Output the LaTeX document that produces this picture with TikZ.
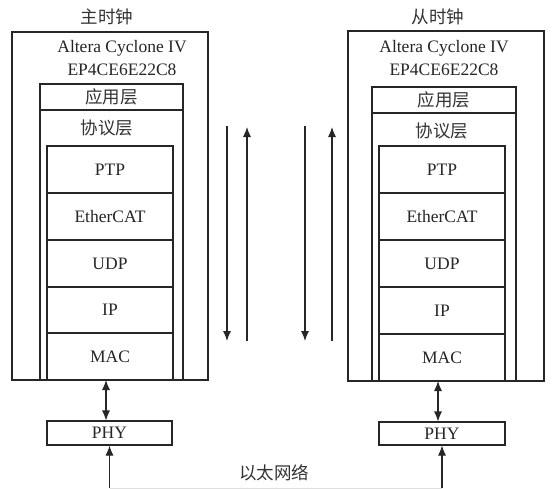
\documentclass[tikz,border=0pt]{standalone}
\usepackage{fontspec}
\setmainfont{Liberation Serif}
\newfontfamily\cjk{Noto Sans CJK SC}
\usetikzlibrary{arrows.meta,fit}
\tikzset{
  box/.style={draw=black!85, line width=1.1pt, inner sep=0pt},
  lat/.style={font=\fontsize{17.5}{20}\selectfont, text=black!85, inner sep=0pt},
  han/.style={font=\cjk\fontsize{17.5}{20}\selectfont, text=black!80, inner sep=0pt},
  flow/.style={draw=black!85, line width=1.1pt,
    -{Latex[length=10pt,width=8pt]}},
  both/.style={draw=black!85, line width=1.1pt,
    {Latex[length=10pt,width=8pt]}-{Latex[length=10pt,width=8pt]}},
}
\begin{document}
\begin{tikzpicture}[x=1pt, y=-1pt]
  \fill[white] (0,0) rectangle (552,488);
  \useasboundingbox (0,0) rectangle (552,488);

  % ---------- master clock ----------
  \node[han] (mtitle) at (107,17) {主时钟};
  \node[box, fit={(12,32) (208,380)}] (mfpga) {};
  \node[lat] (mchip1) at (122,48) {Altera Cyclone IV};
  \node[lat] (mchip2) at (122,70) {EP4CE6E22C8};
  \node[box, fit={(40,84) (183,110)}] (mapp) {};
  \node[han] at (mapp.center) {应用层};
  \node[box, fit={(40,110) (183,380)}] (mproto) {};
  \node[han] (mprotot) at (107,128) {协议层};
  \node[box, fit={(47,146) (173,193)}] (mptp) {};
  \node[lat] at (mptp.center) {PTP};
  \node[box, fit={(47,193) (173,240)}] (mecat) {};
  \node[lat] at (mecat.center) {EtherCAT};
  \node[box, fit={(47,240) (173,287)}] (mudp) {};
  \node[lat] at (mudp.center) {UDP};
  \node[box, fit={(47,287) (173,333)}] (mip) {};
  \node[lat] at (mip.center) {IP};
  \node[box, fit={(47,333) (173,380)}] (mmac) {};
  \node[lat] at (mmac.center) {MAC};
  \node[box, fit={(47,421) (172,445)}] (mphy) {};
  \node[lat] at (mphy.center) {PHY};

  % ---------- slave clock ----------
  \node[han] (stitle) at (438,17) {从时钟};
  \node[box, fit={(348,31) (544,381)}] (sfpga) {};
  \node[lat] (schip1) at (444,48) {Altera Cyclone IV};
  \node[lat] (schip2) at (444,70) {EP4CE6E22C8};
  \node[box, fit={(372,87) (516,113)}] (sapp) {};
  \node[han] at (sapp.center) {应用层};
  \node[box, fit={(372,113) (516,381)}] (sproto) {};
  \node[han] (sprotot) at (442,131) {协议层};
  \node[box, fit={(379,146) (505,193)}] (sptp) {};
  \node[lat] at (sptp.center) {PTP};
  \node[box, fit={(379,193) (505,240)}] (secat) {};
  \node[lat] at (secat.center) {EtherCAT};
  \node[box, fit={(379,240) (505,287)}] (sudp) {};
  \node[lat] at (sudp.center) {UDP};
  \node[box, fit={(379,287) (505,334)}] (sip) {};
  \node[lat] at (sip.center) {IP};
  \node[box, fit={(379,334) (505,381)}] (smac) {};
  \node[lat] at (smac.center) {MAC};
  \node[box, fit={(379,422) (505,445)}] (sphy) {};
  \node[lat] at (sphy.center) {PHY};

  % ---------- MAC <-> PHY links ----------
  \coordinate (mlinkT) at (106,380);
  \coordinate (slinkT) at (438,381);
  \draw[both] (mlinkT) -- (mlinkT |- mphy.north);
  \draw[both] (slinkT) -- (slinkT |- sphy.north);

  % ---------- Ethernet ----------
  \node[han] (eth) at (274,473) {以太网络};
  \coordinate (methB) at (109.5,488);
  \coordinate (sethB) at (442,488);
  \draw[gray!25, line width=1pt] (methB) -- (sethB);
  \draw[flow] (methB) -- (mphy.south);
  \draw[flow] (sethB) -- (sethB |- sphy.south);

  % ---------- send / receive directions ----------
  \coordinate (d1a) at (227,126);  \coordinate (d1b) at (227,341);
  \coordinate (u1a) at (247,341);  \coordinate (u1b) at (247,127);
  \coordinate (d2a) at (305,126);  \coordinate (d2b) at (305,341);
  \coordinate (u2a) at (332,341);  \coordinate (u2b) at (332,127);
  \draw[flow] (d1a) -- (d1b);
  \draw[flow] (u1a) -- (u1b);
  \draw[flow] (d2a) -- (d2b);
  \draw[flow] (u2a) -- (u2b);
\end{tikzpicture}
\end{document}
